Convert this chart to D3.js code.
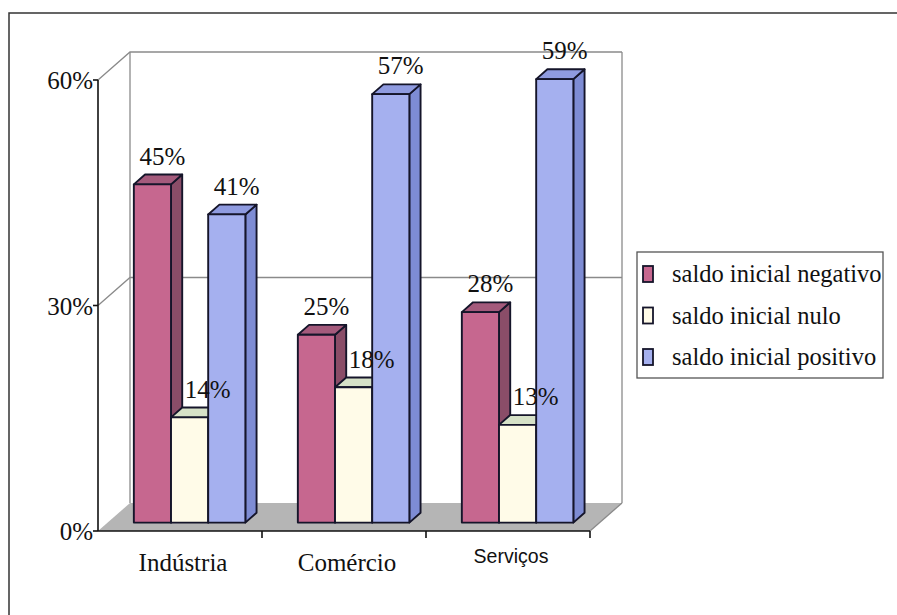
<!DOCTYPE html>
<html><head><meta charset="utf-8">
<script src="https://cdn.jsdelivr.net/npm/d3@7"></script>
<style>html,body{margin:0;padding:0;background:#fff}svg{display:block}</style>
</head><body>
<script>
const categories = ["Indústria", "Comércio", "Serviços"];
const seriesNames = ["saldo inicial negativo", "saldo inicial nulo", "saldo inicial positivo"];
const negativo = [45, 25, 28];
const nulo = [14, 18, 13];
const positivo = [41, 57, 59];
const yTicks = [0, 30, 60];

const SERIF = "'Liberation Serif', 'Times New Roman', serif";
const SANS = "'Liberation Sans', Arial, sans-serif";
const W = 897, H = 615;
const svg = d3.select("body").append("svg").attr("width", W).attr("height", H);

// outer frame
svg.append("path").attr("d", `M9,${H} L9,13 L${W},13`).attr("fill", "none").attr("stroke", "#333").attr("stroke-width", 1.5);

const X0 = 98, X1 = 590, Y0 = 531;
const DX = 32, DY = -28; // full depth offset
const y = d3.scaleLinear().domain([0, 60]).range([Y0, 80]);
const x0 = d3.scaleBand().domain(categories).range([X0, X1]).padding(0);
const gw = x0.bandwidth() * 0.68;
const x1 = d3.scaleBand().domain(seriesNames).range([0, gw]).padding(0);
const d0 = 0.3, d1 = 0.65;

const series = [negativo, nulo, positivo];
const colors = [
  {front: "#c6678f", side: "#8a4d68", top: "#a45a7c"},
  {front: "#fffbe8", side: "#c9c9b0", top: "#d6e1c7"},
  {front: "#a5b0ef", side: "#7e8cd4", top: "#8f9be0"}
];

// floor
const floor = [[X0, Y0], [X1, Y0], [X1 + DX, Y0 + DY], [X0 + DX, Y0 + DY]];
svg.append("polygon").attr("points", floor.map(p => p.join(",")).join(" ")).attr("fill", "#b5b5b5");

// walls: gridlines
const grid = svg.append("g").attr("stroke", "#8a8a8a").attr("stroke-width", 1.3).attr("fill", "none");
yTicks.forEach(t => {
  if (t > 0) {
    grid.append("path").attr("d", `M${X0},${y(t)} L${X0 + DX},${y(t) + DY} L${X1 + DX},${y(t) + DY}`);
  }
});
grid.append("line").attr("x1", X0 + DX).attr("x2", X0 + DX).attr("y1", y(60) + DY).attr("y2", Y0 + DY);
grid.append("line").attr("x1", X1 + DX).attr("x2", X1 + DX).attr("y1", y(60) + DY).attr("y2", Y0 + DY);
grid.append("line").attr("x1", X1).attr("x2", X1 + DX).attr("y1", Y0).attr("y2", Y0 + DY);

// bars
const barsG = svg.append("g");
const labelsG = svg.append("g").attr("font-family", SERIF).attr("font-size", 25).attr("fill", "#111");
const fdx = DX * d0, fdy = DY * d0, bdx = DX * (d1 - d0), bdy = DY * (d1 - d0);
const bw = x1.bandwidth();
categories.forEach((c, ci) => {
  const gx = x0(c) + (x0.bandwidth() - gw) / 2;
  seriesNames.forEach((s, si) => {
    const v = series[si][ci];
    const xl = gx + x1(s) + fdx, xr = xl + bw;
    const yb = Y0 + fdy, yt = y(v) + fdy;
    const col = colors[si];
    const poly = (pts, fill) => barsG.append("polygon")
      .attr("points", pts.map(q => q.join(",")).join(" ")).attr("fill", fill)
      .attr("stroke", "#15152a").attr("stroke-width", 1.9).attr("stroke-linejoin", "round");
    poly([[xr, yb], [xr + bdx, yb + bdy], [xr + bdx, yt + bdy], [xr, yt]], col.side);
    poly([[xl, yt], [xr, yt], [xr + bdx, yt + bdy], [xl + bdx, yt + bdy]], col.top);
    poly([[xl, yb], [xr, yb], [xr, yt], [xl, yt]], col.front);
    labelsG.append("text").attr("x", xl + bw / 2 + (si === 1 ? 18 : 10)).attr("y", yt + bdy - 10)
      .attr("text-anchor", "middle").text(v + "%");
  });
});

// axes
const ax = svg.append("g").attr("stroke", "#111").attr("stroke-width", 1.6);
ax.append("line").attr("x1", X0).attr("x2", X0).attr("y1", y(60)).attr("y2", Y0);
ax.append("line").attr("x1", X0).attr("x2", X1).attr("y1", Y0).attr("y2", Y0);
yTicks.forEach(t => ax.append("line").attr("x1", X0 - 5).attr("x2", X0).attr("y1", y(t)).attr("y2", y(t)));
categories.forEach((c) => {
  const xt = x0(c) + x0.bandwidth();
  ax.append("line").attr("x1", xt).attr("x2", xt).attr("y1", Y0).attr("y2", Y0 + 7);
});

const tl = svg.append("g").attr("font-family", SERIF).attr("fill", "#111");
yTicks.forEach(t => tl.append("text").attr("x", X0 - 5).attr("y", y(t) + 9).attr("text-anchor", "end")
  .attr("font-size", 25).text(t + "%"));
categories.forEach((c, i) => {
  const cx = x0(c) + x0.bandwidth() / 2 + 3;
  const t = tl.append("text").attr("x", cx).attr("text-anchor", "middle").text(c);
  if (i === 2) t.attr("font-family", SANS).attr("font-size", 19.5).attr("y", Y0 + 32);
  else t.attr("font-size", 25).attr("y", Y0 + 40);
});

// legend
const lg = svg.append("g");
lg.append("rect").attr("x", 637).attr("y", 252).attr("width", 246).attr("height", 126)
  .attr("fill", "#fff").attr("stroke", "#555").attr("stroke-width", 1.3);
seriesNames.forEach((s, i) => {
  const cy = 274 + i * 41.5;
  lg.append("rect").attr("x", 643).attr("y", cy - 8).attr("width", 10).attr("height", 16)
    .attr("fill", colors[i].front).attr("stroke", "#15152a").attr("stroke-width", 1.8);
  lg.append("text").attr("x", 672).attr("y", cy + 8).attr("font-family", SERIF)
    .attr("font-size", 24.5).attr("fill", "#111").text(s);
});
</script>
</body></html>
